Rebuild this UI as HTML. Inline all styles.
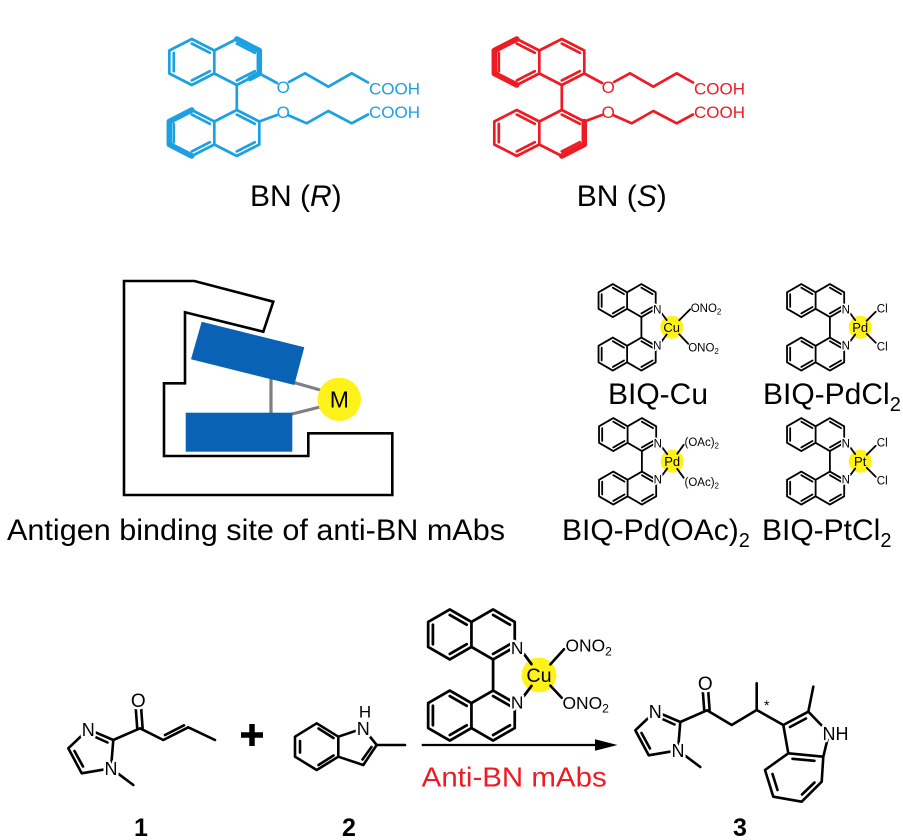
<!DOCTYPE html>
<html>
<head>
<meta charset="utf-8">
<style>
  html,body{margin:0;padding:0;background:#fff;}
  svg{display:block;}
  text{font-family:"Liberation Sans",Arial,sans-serif;}
  .m{paint-order:stroke;stroke:#fff;stroke-width:5;stroke-linejoin:round;}
</style>
</head>
<body>
<svg width="903" height="840" viewBox="0 0 903 840" xmlns="http://www.w3.org/2000/svg">
<defs>
  <g id="naph" fill="none" stroke="currentColor" stroke-width="2.7" stroke-linejoin="round" stroke-linecap="round">
    <path d="M-22.5,-23 L0,-11.5 L0,11.5 L-22.5,23 L-45,11.5 L-45,-11.5 Z M0,-11.5 L22.5,-23 L45,-11.5 L45,11.5 L22.5,23 L0,11.5"/>
    <path d="M-40.5,-9.2 L-40.5,9.2 M-22.5,-18.4 L-4.5,-9.2 M-4.5,9.2 L-22.5,18.4 M22.5,-18.4 L40.5,-9.2 M40.5,9.2 L22.5,18.4"/>
  </g>
  <g id="biq">
    <g fill="none" stroke="#000" stroke-width="1.8" stroke-linejoin="round" stroke-linecap="round">
      <path d="M-30.3,-43.25 L-16.01,-35 L-16.01,-18.5 L-30.3,-10.25 L-44.59,-18.5 L-44.59,-35 Z M-44.59,-35 L-58.88,-43.25 L-73.17,-35 L-73.17,-18.5 L-58.88,-10.25 L-44.59,-18.5"/>
      <path d="M-30.3,43.25 L-16.01,35 L-16.01,18.5 L-30.3,10.25 L-44.59,18.5 L-44.59,35 Z M-44.59,35 L-58.88,43.25 L-73.17,35 L-73.17,18.5 L-58.88,10.25 L-44.59,18.5"/>
      <path d="M-30.3,-10.25 L-30.3,10.25"/>
      <path d="M-30.3,-39.62 L-19.15,-33.18 M-19.15,-20.32 L-30.3,-13.88 M-58.88,-39.62 L-47.73,-33.18 M-47.73,-20.32 L-58.88,-13.88 M-70.03,-33.18 L-70.03,-20.32"/>
      <path d="M-30.3,39.62 L-19.15,33.18 M-19.15,20.32 L-30.3,13.88 M-58.88,39.62 L-47.73,33.18 M-47.73,20.32 L-58.88,13.88 M-70.03,33.18 L-70.03,20.32"/>
      <path d="M-10,-14 L-5,-7.2 M-10,14 L-5,7.2"/>
    </g>
    <text x="-14.4" y="-13.8" font-size="11.5" text-anchor="middle" class="m" style="stroke-width:3">N</text>
    <text x="-14.4" y="22.2" font-size="11.5" text-anchor="middle" class="m" style="stroke-width:3">N</text>
  </g>
</defs>

<!-- ============ BN (R) ============ -->
<g color="#1ba1e2">
  <use href="#naph" transform="translate(214.3,62)"/>
  <use href="#naph" transform="translate(214.3,133)"/>
  <g fill="none" stroke="#1ba1e2" stroke-linejoin="round" stroke-linecap="round">
    <path d="M236.8,39 L259.3,50.5 L259.3,73.5 L250,78.5" stroke-width="5.5"/>
    <path d="M191.8,110 L169.3,121.5 L169.3,144.5 L191.8,156" stroke-width="5.5"/>
    <path d="M236.8,85 L236.8,110" stroke-width="2.7"/>
    <path d="M259.3,73.5 L277,83" stroke-width="2.7"/>
    <path d="M259.3,121.5 L277,115" stroke-width="2.7"/>
    <path d="M289,82 L305,73.3 L328.3,86.7 L351.7,73.3 L368,82.5" stroke-width="2.7"/>
    <path d="M289,115.5 L306.7,123.3 L328.3,111 L351.7,123.3 L368,114.5" stroke-width="2.7"/>
  </g>
  <g fill="#1ba1e2" font-size="17">
    <text x="283.3" y="93" text-anchor="middle">O</text>
    <text x="283.3" y="118.2" text-anchor="middle">O</text>
    <text x="369" y="94.5">COOH</text>
    <text x="369" y="118">COOH</text>
  </g>
</g>
<text x="250" y="206" font-size="30">BN (<tspan font-style="italic">R</tspan>)</text>

<!-- ============ BN (S) ============ -->
<g color="#ed1c24">
  <use href="#naph" transform="translate(539.3,62)"/>
  <use href="#naph" transform="translate(539.3,133)"/>
  <g fill="none" stroke="#ed1c24" stroke-linejoin="round" stroke-linecap="round">
    <path d="M516.8,39 L494.3,50.5 L494.3,73.5 L516.8,85" stroke-width="5.5"/>
    <path d="M584.3,121.5 L584.3,144.5 L561.8,156" stroke-width="5.5"/>
    <path d="M561.8,85 L561.8,110" stroke-width="2.7"/>
    <path d="M584.3,73.5 L602,83" stroke-width="2.7"/>
    <path d="M584.3,121.5 L602,115" stroke-width="2.7"/>
    <path d="M614,82 L630,73.3 L653.3,86.7 L676.7,73.3 L693,82.5" stroke-width="2.7"/>
    <path d="M614,115.5 L631.7,123.3 L653.3,111 L676.7,123.3 L693,114.5" stroke-width="2.7"/>
  </g>
  <g fill="#ed1c24" font-size="17">
    <text x="608.3" y="93" text-anchor="middle">O</text>
    <text x="608.3" y="118.2" text-anchor="middle">O</text>
    <text x="694" y="94.5">COOH</text>
    <text x="694" y="118">COOH</text>
  </g>
</g>
<text x="576.7" y="206" font-size="30">BN (<tspan font-style="italic">S</tspan>)</text>

<!-- ============ Antibody site ============ -->
<polygon points="124,281 194.3,281 273.3,301.7 263.3,331.7 185,312.3 185,383.3 164,383.3 164,456 308.3,456 308.3,433.3 392.3,433.3 392.3,495 124,495" fill="none" stroke="#000" stroke-width="2.6" stroke-linejoin="miter"/>
<g stroke="#7f7f7f" stroke-width="3.2">
  <line x1="271" y1="378" x2="271" y2="414"/>
  <line x1="292" y1="382" x2="322" y2="390.5"/>
  <line x1="290" y1="414.5" x2="322" y2="406.5"/>
</g>
<polygon points="201.7,321.7 304.3,347.3 294.3,385 191,359.3" fill="#0a62b5"/>
<rect x="185.7" y="412.7" width="106.6" height="39" fill="#0a62b5"/>
<circle cx="339.3" cy="399.3" r="21.7" fill="#fff21a"/>
<text x="339.3" y="407.6" font-size="23" text-anchor="middle">M</text>
<text x="7" y="540" font-size="30" textLength="498" lengthAdjust="spacingAndGlyphs">Antigen binding site of anti-BN mAbs</text>

<!-- ============ BIQ complexes ============ -->
<g transform="translate(671.7,327.3)">
  <circle r="11.5" fill="#fff21a"/>
  <use href="#biq"/>
  <g stroke="#000" stroke-width="1.8" stroke-linecap="round">
    <line x1="7.5" y1="-7" x2="18.5" y2="-18"/>
    <line x1="7.5" y1="7" x2="16.5" y2="16.5"/>
  </g>
  <text x="0" y="4.7" font-size="13" text-anchor="middle">Cu</text>
  <text x="19" y="-15.4" font-size="11.5">ONO<tspan font-size="8" dy="2.5">2</tspan></text>
  <text x="16.5" y="24" font-size="11.5">ONO<tspan font-size="8" dy="2.5">2</tspan></text>
</g>
<text x="608" y="404" font-size="30">BIQ-Cu</text>

<g transform="translate(860.2,327.3)">
  <circle r="11.5" fill="#fff21a"/>
  <use href="#biq"/>
  <g stroke="#000" stroke-width="1.8" stroke-linecap="round">
    <line x1="6.5" y1="-6.5" x2="15.5" y2="-15.5"/>
    <line x1="6.5" y1="6.5" x2="15.5" y2="15.5"/>
  </g>
  <text x="0" y="4.7" font-size="13" text-anchor="middle">Pd</text>
  <text x="22" y="-15" font-size="11.5" text-anchor="middle">Cl</text>
  <text x="22" y="23" font-size="11.5" text-anchor="middle">Cl</text>
</g>
<text x="763" y="404" font-size="30">BIQ-PdCl<tspan font-size="20" dy="7">2</tspan></text>

<g transform="translate(672.2,461.3)">
  <circle r="11.5" fill="#fff21a"/>
  <use href="#biq"/>
  <g stroke="#000" stroke-width="1.8" stroke-linecap="round">
    <line x1="5" y1="-7.5" x2="11.5" y2="-16.5"/>
    <line x1="5" y1="7.5" x2="11.5" y2="16.5"/>
  </g>
  <text x="0" y="4.7" font-size="13" text-anchor="middle">Pd</text>
  <text x="12.3" y="-15.5" font-size="11.5">(OAc)<tspan font-size="8" dy="2.5">2</tspan></text>
  <text x="12.3" y="24.5" font-size="11.5">(OAc)<tspan font-size="8" dy="2.5">2</tspan></text>
</g>
<text x="562" y="540" font-size="30">BIQ-Pd(OAc)<tspan font-size="20" dy="7">2</tspan></text>

<g transform="translate(860.2,461.3)">
  <circle r="11.5" fill="#fff21a"/>
  <use href="#biq"/>
  <g stroke="#000" stroke-width="1.8" stroke-linecap="round">
    <line x1="6.5" y1="-6.5" x2="15.5" y2="-15.5"/>
    <line x1="6.5" y1="6.5" x2="15.5" y2="15.5"/>
  </g>
  <text x="0" y="4.7" font-size="13" text-anchor="middle">Pt</text>
  <text x="22" y="-15" font-size="11.5" text-anchor="middle">Cl</text>
  <text x="22" y="23" font-size="11.5" text-anchor="middle">Cl</text>
</g>
<text x="762" y="540" font-size="30">BIQ-PtCl<tspan font-size="20" dy="7">2</tspan></text>

<!-- ============ Reaction ============ -->
<g fill="none" stroke="#000" stroke-width="2.6" stroke-linejoin="round" stroke-linecap="round">
  <path d="M88.3,729.3 L113.3,740 L111,768.3 L81.7,773.3 L68.3,748.3 Z"/>
  <path d="M91,735 L107.5,742.5 M74.5,751 L83,766.5"/>
  <path d="M111,768.3 L133.3,785"/>
  <path d="M113.3,740 L140,728.3 L163.3,740 L188.3,727.3 L215,740"/>
  <path d="M137.2,728 L135.8,709 M142.6,728 L141.2,709"/>
  <path d="M165,735 L184,725.3"/>
</g>
<g font-size="18">
  <text x="88.3" y="735.8" text-anchor="middle" class="m">N</text>
  <text x="111" y="774.8" text-anchor="middle" class="m">N</text>
  <text x="138.3" y="707" text-anchor="middle" font-size="19" class="m">O</text>
</g>
<path d="M241,735 H263 M252,724 V746" stroke="#000" stroke-width="5.5"/>

<g fill="none" stroke="#000" stroke-width="2.6" stroke-linejoin="round" stroke-linecap="round">
  <path d="M295,736.7 L316.7,723.3 L338.3,736.7 L338.3,756.7 L316.7,770 L295,756.7 Z"/>
  <path d="M300,741 L300,752.5 M318.5,728.5 L333.5,738 M333.5,755.5 L318.5,765"/>
  <path d="M338.3,736.7 L363.3,728.3 L376.7,745 L363.3,765 L338.3,756.7"/>
  <path d="M371.5,747 L362.5,759.5"/>
  <path d="M376.7,745 L405,745"/>
</g>
<text x="363.3" y="734.8" font-size="18" text-anchor="middle" class="m">N</text>
<text x="365" y="717.5" font-size="17" text-anchor="middle">H</text>

<line x1="421.7" y1="745" x2="600" y2="745" stroke="#000" stroke-width="2.2"/>
<polygon points="595,739.3 617.5,745 595,750.7" fill="#000"/>
<text x="421.7" y="786.7" font-size="28" fill="#ed1c24" textLength="185" lengthAdjust="spacingAndGlyphs">Anti-BN mAbs</text>

<g transform="translate(539,675) scale(1.515)">
  <circle r="11.5" fill="#fff21a"/>
  <use href="#biq"/>
  <g stroke="#000" stroke-width="1.7" stroke-linecap="round">
    <line x1="7.5" y1="-7" x2="16.5" y2="-17"/>
    <line x1="7.5" y1="7" x2="15" y2="15"/>
  </g>
  <text x="0" y="4.7" font-size="13" text-anchor="middle">Cu</text>
  <text x="17.5" y="-15.4" font-size="11.5">ONO<tspan font-size="8" dy="2.5">2</tspan></text>
  <text x="15.5" y="22.4" font-size="11.5">ONO<tspan font-size="8" dy="2.5">2</tspan></text>
</g>

<g fill="none" stroke="#000" stroke-width="2.6" stroke-linejoin="round" stroke-linecap="round">
  <path d="M655.3,711.3 L680.3,722 L678,750.3 L648.7,755.3 L635.3,730.3 Z"/>
  <path d="M658,717 L674.5,724.5 M641.5,733 L650,748.5"/>
  <path d="M678,750.3 L700.3,767"/>
  <path d="M680.3,722 L707,710.3 L731.7,725 L756.7,710 L783.3,725"/>
  <path d="M704.2,710 L702.8,691 M709.6,710 L708.2,691"/>
  <path d="M756.7,710 L756.7,683.3"/>
  <path d="M783.3,725 L808.3,711.7 L829,733 L823.3,756.7 L788.3,753.3 Z"/>
  <path d="M790,727 L806,718.5"/>
  <path d="M808.3,711.7 L813.3,686.7"/>
  <path d="M788.3,753.3 L765,770 L773.3,796.7 L801.7,801.7 L821.7,781.7 L823.3,756.7"/>
  <path d="M772.5,774 L777.5,790 M802,794.5 L814.5,782.5 M792.5,758.8 L814.5,760.8"/>
</g>
<g font-size="18">
  <text x="655.3" y="717.8" text-anchor="middle" class="m">N</text>
  <text x="678" y="756.8" text-anchor="middle" class="m">N</text>
  <text x="705.3" y="690" text-anchor="middle" font-size="19" class="m">O</text>
  <text x="822.5" y="740" class="m">NH</text>
</g>
<text x="766.7" y="710" font-size="14" text-anchor="middle">*</text>

<g font-size="25" font-weight="bold" text-anchor="middle">
  <text x="141" y="836">1</text>
  <text x="349" y="836">2</text>
  <text x="740" y="836">3</text>
</g>
</svg>
</body>
</html>
